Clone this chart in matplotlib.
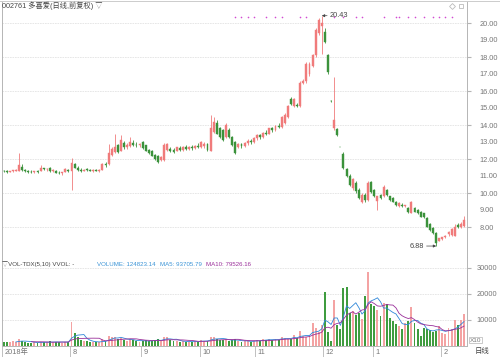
import numpy as np
import pandas as pd
import matplotlib
matplotlib.use("Agg")
import matplotlib.pyplot as plt
from matplotlib.transforms import blended_transform_factory

FONT = ['Liberation Sans', 'Noto Sans CJK SC', 'DejaVu Sans']

# daily candles, 2018-07-02 .. 2019-02 (index = trading day)
opens = [11.30, 11.28, 11.25, 11.30, 11.32, 11.32, 11.55, 11.35, 11.30, 11.26,
         11.22, 11.28, 11.30, 11.45, 11.40, 11.48, 11.30, 11.32, 11.20, 11.15,
         11.25, 11.35, 11.30, 11.70, 11.50, 11.38, 11.30, 11.38, 11.35, 11.32,
         11.36, 11.30, 11.38, 11.70, 11.70, 12.25, 12.40, 12.80, 12.50, 12.95,
         12.70, 12.75, 12.95, 12.85, 12.80, 13.00, 12.80, 12.55, 12.50, 12.25,
         12.20, 11.95, 11.95, 12.55, 12.60, 12.55, 12.50, 12.65, 12.55, 12.72,
         12.60, 12.70, 12.62, 12.78, 12.70, 12.75, 12.90, 12.50, 13.60, 14.10,
         13.80, 13.70, 13.30, 13.70, 13.30, 13.00, 12.70, 12.90, 12.75, 12.95,
         13.05, 13.00, 13.25, 13.40, 13.30, 13.55, 13.50, 13.80, 13.70, 13.95,
         13.90, 14.10, 14.50, 15.55, 15.10, 15.20, 15.10, 16.50, 16.60, 17.00,
         17.50, 18.10, 19.40, 19.80, 19.50, 18.10, 15.40, 13.85, 13.75, 12.70,
         12.30, 11.40, 11.00, 10.30, 10.60, 10.20, 9.50, 9.90, 9.60, 10.65,
         10.20, 9.55, 9.90, 9.80, 10.20, 9.80, 9.70, 9.50, 9.25, 9.30,
         9.25, 9.10, 8.85, 9.10, 9.00, 8.90, 8.80, 8.55, 8.20, 7.95,
         7.65, 7.20, 7.28, 7.40, 7.60, 7.55, 7.50, 8.10, 8.00, 8.05]
highs = [11.35, 11.33, 11.32, 11.38, 11.40, 12.35, 11.70, 11.42, 11.36, 11.34,
         11.30, 11.35, 11.62, 11.50, 11.48, 11.52, 11.40, 11.38, 11.28, 11.25,
         11.45, 11.42, 12.05, 11.78, 11.58, 11.45, 11.42, 11.45, 11.42, 11.40,
         11.42, 11.40, 11.78, 11.85, 12.90, 12.70, 13.50, 12.90, 13.40, 13.05,
         12.95, 13.30, 13.10, 12.98, 12.95, 13.05, 12.85, 12.60, 12.55, 12.30,
         12.25, 12.15, 12.95, 12.95, 12.68, 12.62, 12.72, 12.75, 12.75, 12.80,
         12.78, 12.80, 12.85, 12.92, 13.05, 13.00, 12.95, 14.60, 14.50, 14.30,
         13.90, 13.75, 14.10, 13.80, 13.35, 13.05, 12.95, 12.95, 13.00, 13.15,
         13.20, 13.30, 13.45, 13.50, 13.60, 13.70, 13.85, 13.90, 14.00, 14.10,
         14.55, 14.70, 15.15, 15.65, 15.60, 15.30, 16.60, 16.70, 17.70, 17.70,
         18.20, 19.70, 20.30, 20.43, 19.70, 18.20, 15.45, 16.80, 13.80, 12.72,
         12.40, 11.50, 11.10, 10.90, 10.70, 10.30, 10.00, 10.00, 10.70, 10.70,
         10.25, 9.85, 9.95, 10.45, 10.25, 9.85, 9.75, 9.55, 9.45, 9.40,
         9.30, 9.15, 9.55, 9.15, 9.05, 8.92, 8.82, 8.60, 8.25, 8.00,
         7.70, 7.38, 7.42, 7.55, 7.75, 7.95, 8.15, 8.22, 8.30, 8.62]
lows = [11.22, 11.20, 11.22, 11.25, 11.28, 11.30, 11.30, 11.25, 11.20, 11.18,
        11.15, 11.20, 11.28, 11.35, 11.32, 11.22, 11.22, 11.15, 11.10, 11.08,
        11.22, 11.25, 10.20, 11.45, 11.30, 11.25, 11.28, 11.30, 11.28, 11.25,
        11.28, 11.26, 11.35, 11.55, 11.65, 12.15, 12.35, 12.35, 12.45, 12.60,
        12.60, 12.70, 12.75, 12.72, 12.70, 12.60, 12.45, 12.30, 12.15, 11.95,
        11.75, 11.90, 11.90, 12.45, 12.40, 12.38, 12.45, 12.50, 12.50, 12.55,
        12.55, 12.55, 12.58, 12.65, 12.62, 12.65, 12.45, 12.45, 13.55, 13.45,
        13.25, 13.05, 13.25, 13.25, 12.75, 12.30, 12.65, 12.65, 12.70, 12.85,
        12.90, 12.95, 13.10, 13.20, 13.25, 13.40, 13.45, 13.60, 13.65, 13.80,
        13.85, 14.05, 14.40, 15.20, 15.05, 15.05, 15.05, 16.40, 16.50, 16.90,
        17.40, 18.00, 19.30, 18.20, 18.80, 17.00, 15.38, 13.70, 13.35, 12.68,
        11.40, 10.95, 10.40, 10.20, 10.00, 9.65, 9.40, 9.50, 9.55, 10.00,
        9.75, 9.00, 9.65, 9.75, 9.85, 9.55, 9.45, 9.25, 9.15, 9.20,
        9.15, 8.85, 8.80, 8.88, 8.78, 8.58, 8.55, 7.98, 7.75, 7.60,
        6.88, 7.15, 7.25, 7.38, 7.45, 7.50, 7.45, 7.95, 7.95, 8.00]
closes = [11.28, 11.25, 11.30, 11.32, 11.35, 11.65, 11.35, 11.30, 11.25, 11.22,
          11.28, 11.25, 11.45, 11.40, 11.42, 11.28, 11.35, 11.20, 11.15, 11.22,
          11.40, 11.32, 11.75, 11.50, 11.35, 11.30, 11.38, 11.35, 11.32, 11.36,
          11.30, 11.38, 11.72, 11.62, 12.35, 12.60, 12.70, 12.42, 13.10, 12.70,
          12.85, 13.00, 12.85, 12.80, 12.90, 12.65, 12.50, 12.35, 12.20, 12.00,
          11.85, 12.10, 12.85, 12.90, 12.45, 12.42, 12.68, 12.55, 12.70, 12.60,
          12.72, 12.62, 12.78, 12.72, 12.98, 12.90, 12.52, 13.80, 14.20, 13.50,
          13.30, 13.10, 14.00, 13.30, 12.80, 12.35, 12.90, 12.75, 12.95, 13.05,
          13.00, 13.25, 13.40, 13.30, 13.55, 13.50, 13.80, 13.70, 13.95, 13.90,
          14.50, 14.60, 15.10, 15.25, 15.55, 15.10, 16.50, 16.60, 17.60, 17.60,
          18.10, 19.60, 20.20, 20.00, 18.90, 17.10, 15.39, 14.30, 13.40, 12.69,
          11.50, 11.00, 10.50, 10.80, 10.10, 9.70, 9.90, 9.60, 10.60, 10.05,
          9.80, 9.80, 9.70, 10.35, 9.90, 9.60, 9.50, 9.30, 9.40, 9.25,
          9.30, 8.90, 9.50, 8.90, 8.80, 8.60, 8.60, 8.00, 7.80, 7.65,
          7.05, 7.35, 7.40, 7.50, 7.70, 7.90, 8.00, 8.00, 8.20, 8.40]

# volume in units of 10 lots (axis "X10")
volumes = [1600, 1400, 1500, 1800, 1500, 2600, 2000, 1500, 1300, 1200,
           1400, 1300, 1700, 1500, 1400, 1800, 1500, 1600, 1400, 1300,
           1700, 1500, 9200, 5000, 3500, 2300, 2000, 1800, 1600, 1500,
           1400, 1500, 2500, 2000, 3800, 3500, 3600, 2500, 3200, 2200,
           2000, 2600, 2200, 1800, 1700, 2000, 2200, 1900, 2100, 2400,
           2600, 1800, 3600, 3400, 2200, 1800, 2000, 1700, 1800, 1600,
           1700, 1600, 1800, 1700, 2400, 2000, 1800, 3400, 3600, 2800,
           2400, 2200, 2600, 2000, 2200, 2600, 1800, 1700, 1800, 1900,
           1700, 2000, 2400, 2100, 2600, 2200, 2800, 2400, 2600, 2300,
           3500, 3200, 2800, 2600, 4200, 3000, 5800, 3800, 3500, 4000,
           8800, 7000, 5200, 8000, 20800, 5400, 2000, 17700, 8000, 6500,
           22300, 22700, 12700, 13500, 12000, 12700, 10500, 19200, 28500, 16000,
           15200, 13800, 11500, 16500, 16000, 10800, 9800, 8500, 7500, 6500,
           9000, 9500, 15000, 9000, 6500, 4000, 7000, 6500, 6000, 5500,
           5800, 7500, 5000, 4500, 7000, 6500, 10000, 8000, 9900, 12482]

month_starts = [0, 22, 45, 64, 82, 104, 120, 142]
month_labels = ['2018年', '8', '9', '10', '11', '12', '1', '2']
marker_days = [75, 77, 79, 81, 85, 88, 90, 96, 98, 107, 110, 114, 116, 123,
               127, 128, 131, 133, 136, 139, 141, 143, 145]

RED = '#f07b7b'
GREEN = '#3b923b'
VRED = '#f4a3a3'
VGREEN = '#3f9c3f'
GRID = '#e3e3e3'
AXC = '#b5b5b5'
TXT = '#777777'


def draw_candles(ax, df):
    up = df['close'] >= df['open']
    for mask, col in ((up, RED), (~up, GREEN)):
        d = df[mask]
        ax.vlines(d.index, d['low'], d['high'], color=col, lw=0.6, zorder=2)
        bottom = np.minimum(d['open'], d['close'])
        height = np.maximum(np.abs(d['close'] - d['open']), 0.04)
        ax.bar(d.index, height, bottom=bottom, width=0.62, color=col,
               edgecolor=col, lw=0.3, zorder=3)


def chain_text(fig, x0, y, parts, size, gap=4):
    # write texts one after another in figure pixels, no overlaps
    r = fig.canvas.get_renderer()
    W = fig.bbox.width
    x = x0
    for want, s, col in parts:
        x = max(x, want)
        t = fig.text(x / W, y, s, fontsize=size, color=col, va='center',
                     ha='left', family=FONT)
        x = t.get_window_extent(r).x1 + gap


def main():
    df = pd.DataFrame({'open': opens, 'high': highs, 'low': lows,
                       'close': closes, 'vol': volumes})
    n = len(df)
    W, H = 500, 357
    fig = plt.figure(figsize=(W / 100, H / 100), dpi=100)
    fig.patch.set_facecolor('white')

    def frame(top, bottom):
        return [2 / W, 1 - bottom / H, 465 / W, (bottom - top) / H]

    ax = fig.add_axes(frame(1, 257))
    axv = fig.add_axes(frame(257, 346))
    xlim = (-0.5, n - 0.02)

    # price panel
    draw_candles(ax, df)
    ax.set_xlim(*xlim)
    ax.set_ylim(20 - 234 / 17, 20 + 22 / 17)
    ax.yaxis.tick_right()
    ax.set_yticks(np.arange(8, 21, 2))
    ax.set_yticks(np.arange(9, 20, 2), minor=True)
    ax.yaxis.set_major_formatter(matplotlib.ticker.FormatStrFormatter('%.2f'))
    ax.yaxis.set_minor_formatter(matplotlib.ticker.FormatStrFormatter('%.2f'))
    ax.tick_params(axis='y', which='major', length=3, pad=6, color=AXC,
                   labelsize=5.3, labelcolor=TXT)
    ax.tick_params(axis='y', which='minor', length=0, pad=9, labelsize=5.3,
                   labelcolor=TXT)
    for lab in ax.get_yticklabels() + ax.get_yticklabels(minor=True):
        lab.set_family(FONT)
    ax.set_xticks([])
    ax.grid(axis='y', which='major', color=GRID, lw=0.6, ls=(0, (2, 1)))
    ax.set_axisbelow(True)
    ax.spines['top'].set_visible(False)
    for s in ('left', 'right', 'bottom'):
        ax.spines[s].set_color(AXC)
        ax.spines[s].set_linewidth(0.7)

    # event markers row
    trans = blended_transform_factory(ax.transData, ax.transAxes)
    ax.scatter(marker_days, [(257 - 17) / 256] * len(marker_days), s=1.4,
               color='#d24bd2', transform=trans, lw=0, zorder=4)

    # extremes
    hi_i = int(df['high'].idxmax())
    lo_i = int(df['low'].idxmin())
    ax.annotate('%.2f' % df['high'].max(), xy=(hi_i, df['high'].max()),
                xytext=(hi_i + 2.6, df['high'].max()), va='center', ha='left',
                fontsize=5.3, color='#444444', family=FONT,
                arrowprops=dict(arrowstyle='-|>', color='#444444', lw=0.5,
                                mutation_scale=4, shrinkA=0, shrinkB=0))
    ax.annotate('%.2f' % df['low'].min(), xy=(lo_i, df['low'].min()),
                xytext=(lo_i - 4, df['low'].min()), va='center', ha='right',
                fontsize=5.3, color='#444444', family=FONT,
                arrowprops=dict(arrowstyle='-|>', color='#444444', lw=0.5,
                                mutation_scale=4, shrinkA=0, shrinkB=0))

    # volume panel
    up = df['close'] >= df['open']
    axv.bar(df.index[up], df['vol'][up], width=0.62, color=VRED, lw=0, zorder=2)
    axv.bar(df.index[~up], df['vol'][~up], width=0.62, color=VGREEN, lw=0, zorder=2)
    ma5 = df['vol'].rolling(5).mean()
    ma10 = df['vol'].rolling(10).mean()
    axv.plot(df.index, ma5, color='#2f86d8', lw=0.6, zorder=3)
    axv.plot(df.index, ma10, color='#9a2f9a', lw=0.6, zorder=3)
    axv.set_xlim(*xlim)
    axv.set_ylim(0, 34230)
    axv.yaxis.tick_right()
    axv.set_yticks([10000, 20000, 30000])
    axv.tick_params(axis='y', length=3, pad=4, color=AXC, labelsize=5.3,
                    labelcolor=TXT)
    for lab in axv.get_yticklabels():
        lab.set_family(FONT)
    axv.grid(axis='y', color=GRID, lw=0.6, ls=(0, (2, 1)))
    axv.set_axisbelow(True)
    axv.set_xticks([])
    axv.spines['top'].set_visible(False)
    for s in ('left', 'right', 'bottom'):
        axv.spines[s].set_color(AXC)
        axv.spines[s].set_linewidth(0.7)

    # month labels under volume panel
    tv = blended_transform_factory(axv.transData, axv.transAxes)
    for m, lab in zip(month_starts, month_labels):
        axv.plot([m - 0.5, m - 0.5], [0, -0.12], color=AXC, lw=0.6,
                 transform=tv, clip_on=False)
        axv.text(m + 0.3, -0.07, lab, transform=tv, fontsize=5.3, color=TXT,
                 va='center', ha='left', family=FONT)

    # titles
    fig.text(2 / W, 1 - 5.5 / H, '002761 多喜爱(日线,前复权) ▽', fontsize=5.2,
             color='#444444', va='center', ha='left', family=FONT)
    chain_text(fig, 2, 1 - 264 / H,
               [(2, '▽VOL-TDX(5,10) VVOL: -', '#444444'),
                (97, 'VOLUME: 124823.14', '#3a93d6'),
                (152, 'MA5: 93705.79', '#3a93d6'),
                (200, 'MA10: 79526.16', '#9a2f9a')], size=4.4, gap=4)
    fig.text(470 / W, 1 - 340 / H, 'X10', fontsize=4.6, color=TXT, va='center',
             ha='left', family=FONT,
             bbox=dict(boxstyle='square,pad=0.15', fc='white', ec=AXC, lw=0.5))
    fig.text(475 / W, 1 - 352 / H, '日线', fontsize=5.3, color='#444444',
             va='center', ha='left', family=FONT)

    # small icons top right
    fig.lines.append(plt.Line2D([452 / W], [1 - 6 / H], marker='D', ms=3,
                                mfc='none', mec='#bbbbbb', mew=0.6,
                                transform=fig.transFigure))
    fig.lines.append(plt.Line2D([461 / W], [1 - 6 / H], marker='s', ms=3.4,
                                mfc='none', mec='#bbbbbb', mew=0.6,
                                transform=fig.transFigure))
    # top border
    fig.lines.append(plt.Line2D([0, 1], [1 - 0.5 / H] * 2, color='#cccccc',
                                lw=0.7, transform=fig.transFigure))

    fig.savefig('out.png', dpi=100)


if __name__ == '__main__':
    main()
